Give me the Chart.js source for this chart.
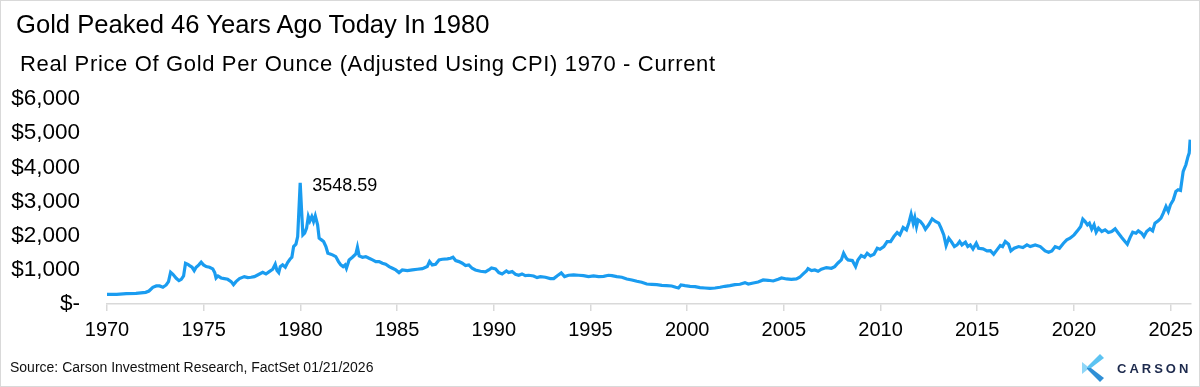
<!DOCTYPE html>
<html>
<head>
<meta charset="utf-8">
<title>Gold Peaked 46 Years Ago Today In 1980</title>
<script src="https://cdn.jsdelivr.net/npm/chart.js@4/dist/chart.umd.min.js"></script>
<style>
  html, body { margin: 0; padding: 0; background: #fff; }
  #frame {
    position: relative; width: 1200px; height: 387px; overflow: hidden;
    font-family: "Liberation Sans", Arial, sans-serif; color: #000;
  }
  #chartBox { position: absolute; left: 0; top: 0; width: 1200px; height: 387px; }
  #border { position: absolute; left: 0; top: 0; right: 0; bottom: 0; border: 1px solid #d9d9d9; pointer-events: none; }
  #title { position: absolute; left: 16px; top: 10px; font-size: 25.6px; white-space: nowrap; }
  #subtitle { position: absolute; left: 20px; top: 51px; font-size: 22px; letter-spacing: 0.65px; white-space: nowrap; }
  #peakNote { position: absolute; font-size: 18px; white-space: nowrap; line-height: 1; }
  #source { position: absolute; left: 10px; top: 359px; font-size: 14px; color: #111; white-space: nowrap; }
  #logo { position: absolute; left: 1082px; top: 353px; height: 30px; }
  #logoText {
    position: absolute; left: 1117px; top: 361px; font-size: 13px; font-weight: bold;
    letter-spacing: 3px; color: #1d2a4d; white-space: nowrap;
  }
</style>
</head>
<body>
<div id="frame">
  <div id="chartBox"><canvas id="gold-chart"></canvas></div>
  <div id="title">Gold Peaked 46 Years Ago Today In 1980</div>
  <div id="subtitle">Real Price Of Gold Per Ounce (Adjusted Using CPI) 1970 - Current</div>
  <div id="peakNote"></div>
  <div id="source">Source: Carson Investment Research, FactSet 01/21/2026</div>
  <svg id="logo" width="22" height="30" viewBox="0 0 22 30">
    <polygon points="18,1 22,5 9,15 4,15" fill="#5cc3f2"/>
    <polygon points="4,15 9,15 22,25 18,29" fill="#2f8fd6"/>
    <polygon points="0,9 5,13 5,17 0,21" fill="#8fd6f7"/>
  </svg>
  <div id="logoText">CARSON</div>
  <div id="border"></div>
</div>
<script>
// real gold price per ounce (decimal year -> USD)
const years = [
  1970.00, 1970.50, 1971.00, 1971.50, 1972.00, 1972.17, 1972.37, 1972.55, 1972.72, 1972.89,
  1973.06, 1973.18, 1973.29, 1973.41, 1973.58, 1973.72, 1973.84, 1973.96, 1974.06, 1974.18,
  1974.27, 1974.40, 1974.51, 1974.61, 1974.75, 1974.87, 1974.99, 1975.13, 1975.30, 1975.47,
  1975.57, 1975.64, 1975.74, 1975.90, 1976.07, 1976.24, 1976.42, 1976.54, 1976.67, 1976.85,
  1977.10, 1977.28, 1977.45, 1977.62, 1977.79, 1978.05, 1978.22, 1978.39, 1978.57, 1978.70,
  1978.79, 1978.88, 1978.96, 1979.08, 1979.22, 1979.34, 1979.46, 1979.56, 1979.65, 1979.77,
  1979.86, 1979.99, 1980.06, 1980.13, 1980.22, 1980.32, 1980.41, 1980.49, 1980.59, 1980.68,
  1980.77, 1980.89, 1980.97, 1981.09, 1981.20, 1981.32, 1981.42, 1981.54, 1981.66, 1981.83,
  1981.97, 1982.09, 1982.21, 1982.31, 1982.38, 1982.52, 1982.69, 1982.87, 1982.95, 1983.04,
  1983.21, 1983.38, 1983.55, 1983.73, 1983.90, 1984.07, 1984.24, 1984.41, 1984.59, 1984.76,
  1984.93, 1985.10, 1985.27, 1985.53, 1985.79, 1986.05, 1986.31, 1986.56, 1986.68, 1986.82,
  1986.99, 1987.17, 1987.34, 1987.60, 1987.77, 1987.89, 1988.03, 1988.20, 1988.37, 1988.54,
  1988.71, 1988.88, 1989.05, 1989.31, 1989.57, 1989.74, 1989.88, 1990.09, 1990.26, 1990.43,
  1990.65, 1990.77, 1990.95, 1991.12, 1991.29, 1991.46, 1991.63, 1991.81, 1992.06, 1992.24,
  1992.41, 1992.67, 1992.92, 1993.10, 1993.27, 1993.49, 1993.66, 1993.87, 1994.13, 1994.39,
  1994.64, 1994.90, 1995.16, 1995.42, 1995.68, 1995.93, 1996.11, 1996.36, 1996.62, 1996.88,
  1997.14, 1997.40, 1997.65, 1997.91, 1998.17, 1998.43, 1998.69, 1998.94, 1999.20, 1999.41,
  1999.55, 1999.68, 1999.89, 2000.15, 2000.41, 2000.66, 2000.92, 2001.18, 2001.44, 2001.70,
  2001.95, 2002.21, 2002.47, 2002.73, 2002.99, 2003.16, 2003.42, 2003.67, 2003.93, 2004.19,
  2004.45, 2004.71, 2004.88, 2005.14, 2005.39, 2005.65, 2005.82, 2006.00, 2006.17, 2006.25,
  2006.43, 2006.60, 2006.77, 2006.94, 2007.20, 2007.46, 2007.63, 2007.80, 2007.97, 2008.09,
  2008.23, 2008.32, 2008.54, 2008.71, 2008.83, 2009.00, 2009.17, 2009.31, 2009.48, 2009.66,
  2009.83, 2009.97, 2010.17, 2010.34, 2010.52, 2010.69, 2010.86, 2011.00, 2011.17, 2011.34,
  2011.46, 2011.58, 2011.69, 2011.77, 2011.86, 2011.94, 2012.06, 2012.20, 2012.32, 2012.49,
  2012.67, 2012.84, 2013.01, 2013.13, 2013.27, 2013.39, 2013.53, 2013.66, 2013.82, 2013.96,
  2014.09, 2014.21, 2014.39, 2014.51, 2014.64, 2014.78, 2014.95, 2015.07, 2015.30, 2015.50,
  2015.68, 2015.85, 2016.02, 2016.19, 2016.31, 2016.45, 2016.62, 2016.74, 2016.91, 2017.14,
  2017.36, 2017.57, 2017.74, 2018.00, 2018.26, 2018.51, 2018.69, 2018.86, 2019.03, 2019.25,
  2019.46, 2019.63, 2019.80, 2020.01, 2020.18, 2020.35, 2020.46, 2020.58, 2020.70, 2020.80,
  2020.92, 2021.04, 2021.15, 2021.27, 2021.44, 2021.61, 2021.78, 2021.95, 2022.13, 2022.30,
  2022.47, 2022.64, 2022.76, 2022.90, 2023.04, 2023.21, 2023.33, 2023.50, 2023.62, 2023.76,
  2023.93, 2024.07, 2024.19, 2024.36, 2024.50, 2024.62, 2024.76, 2024.88, 2024.99, 2025.14,
  2025.27, 2025.39, 2025.51, 2025.65, 2025.79, 2025.90, 2025.96, 2026.01
];
const realPrice = [
  283, 283, 303, 313, 342, 380, 489, 528, 528, 489,
  557, 655, 929, 870, 753, 684, 723, 821, 1193, 1163,
  1124, 1075, 978, 1075, 1144, 1222, 1144, 1095, 1075, 1026,
  919, 762, 821, 762, 743, 723, 655, 567, 655, 743,
  801, 772, 782, 801, 850, 929, 880, 948, 1017, 1163,
  978, 919, 1095, 1144, 1075, 1212, 1310, 1369, 1681, 1750,
  1975, 3548.59, 2757, 2023, 2072, 2219, 2561, 2434, 2561, 2414,
  2581, 2317, 1926, 1877, 1828, 1681, 1486, 1466, 1437, 1388,
  1241, 1144, 1095, 1144, 1046, 1290, 1369, 1466, 1662, 1408,
  1369, 1388, 1339, 1290, 1241, 1241, 1193, 1163, 1095, 1046,
  997, 919, 997, 978, 997, 1017, 1036, 1095, 1241, 1144,
  1163, 1290, 1310, 1320, 1339, 1369, 1271, 1241, 1193, 1124,
  1144, 1046, 997, 958, 938, 997, 1056, 1026, 919, 880,
  968, 919, 948, 870, 841, 880, 831, 841, 821, 772,
  801, 782, 743, 743, 821, 909, 801, 841, 850, 841,
  831, 801, 821, 801, 811, 841, 831, 801, 782, 733,
  704, 665, 635, 586, 577, 567, 547, 538, 528, 489,
  469, 557, 538, 518, 508, 479, 469, 459, 469, 489,
  518, 538, 567, 577, 626, 586, 616, 645, 704, 694,
  674, 723, 762, 733, 723, 733, 782, 880, 968, 1036,
  978, 997, 958, 1017, 1066, 1046, 1095, 1200, 1290, 1486,
  1339, 1290, 1271, 1095, 1290, 1417, 1369, 1486, 1408, 1456,
  1632, 1603, 1681, 1828, 1828, 1975, 2092, 2023, 2238, 2170,
  2366, 2630, 2366, 2532, 2268, 2463, 2414, 2317, 2190, 2317,
  2493, 2414, 2366, 2219, 2023, 1711, 1926, 1828, 1681, 1730,
  1828, 1730, 1808, 1681, 1730, 1613, 1779, 1632, 1613, 1554,
  1564, 1456, 1584, 1711, 1681, 1828, 1750, 1554, 1632, 1681,
  1652, 1730, 1681, 1730, 1681, 1554, 1515, 1554, 1681, 1632,
  1779, 1877, 1926, 2023, 2141, 2268, 2483, 2414, 2317, 2366,
  2190, 2317, 2102, 2219, 2121, 2170, 2092, 2121, 2199, 2072,
  1945, 1828, 1750, 1945, 2102, 2072, 2141, 2072, 1975, 2121,
  2199, 2141, 2366, 2434, 2512, 2659, 2854, 2708, 2903, 3050,
  3294, 3343, 3324, 3881, 4076, 4321, 4418, 4809
];

const tickYears = [1970, 1975, 1980, 1985, 1990, 1995, 2000, 2005, 2010, 2015, 2020, 2025];
const yTicks = [0, 1000, 2000, 3000, 4000, 5000, 6000];
const yTickLabels = ["$-", "$1,000", "$2,000", "$3,000", "$4,000", "$5,000", "$6,000"];

// the 1980 high is the one that gets a label (latest value is higher in real terms)
const noteBefore = 1990;

const FONT = '"Liberation Sans", Arial, sans-serif';

const config = {
  type: "line",
  data: {
    datasets: [
      {
        label: "Real gold price",
        data: years.map((yr, i) => ({ x: yr, y: realPrice[i] })),
        borderColor: "#1a9cf0",
        borderWidth: 3.2,
        pointRadius: 0,
        tension: 0,
        fill: false,
      },
    ],
  },
  options: {
    responsive: true,
    maintainAspectRatio: false,
    animation: false,
    layout: { padding: { top: 99, right: 7, left: 0, bottom: 0 } },
    plugins: {
      legend: { display: false },
      tooltip: { enabled: false },
    },
    scales: {
      x: {
        type: "linear",
        min: 1970,
        max: 2026.05,
        afterBuildTicks: (scale) => {
          scale.ticks = tickYears.map((v) => ({ value: v }));
        },
        afterFit: (scale) => {
          scale.height = 83;
        },
        grid: {
          display: true,
          drawOnChartArea: false,
          drawTicks: true,
          tickLength: 7,
          color: "#d9d9d9",
          lineWidth: 1.5,
        },
        border: { display: true, color: "#d9d9d9", width: 1.5 },
        ticks: {
          font: { family: FONT, size: 20 },
          color: "#000",
          padding: 7,
          maxRotation: 0,
          autoSkip: false,
          callback: (v) => String(v),
        },
      },
      y: {
        min: 0,
        max: 6000,
        afterBuildTicks: (scale) => {
          scale.ticks = yTicks.map((v) => ({ value: v }));
        },
        afterFit: (scale) => {
          scale.width = 107;
        },
        grid: { display: false, drawTicks: false },
        border: { display: false },
        ticks: {
          font: { family: FONT, size: 22.5 },
          color: "#000",
          padding: 27,
          callback: (v) => yTickLabels[yTicks.indexOf(v)],
        },
      },
    },
  },
};

const goldChart = new Chart(document.getElementById("gold-chart"), config);

// label the 1980 peak next to its spike
let peakIdx = 0;
years.forEach((yr, i) => {
  if (yr < noteBefore && realPrice[i] > realPrice[peakIdx]) peakIdx = i;
});
const note = document.getElementById("peakNote");
note.textContent = realPrice[peakIdx].toFixed(2);
note.style.left = (goldChart.scales.x.getPixelForValue(years[peakIdx]) + 12) + "px";
note.style.top = (goldChart.scales.y.getPixelForValue(realPrice[peakIdx]) - 7) + "px";
</script>
</body>
</html>
